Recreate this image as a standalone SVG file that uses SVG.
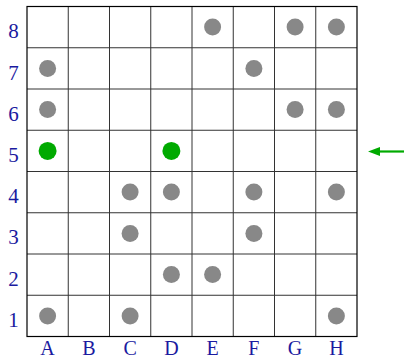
<svg xmlns="http://www.w3.org/2000/svg" width="404" height="360" viewBox="0 0 404 360">
<style>
.g{fill:none;stroke:#333;stroke-width:1}
.b{fill:none;stroke:#000;stroke-width:1.2}
.p{fill:#888}
.q{fill:#00aa00}
.t{font-family:"Liberation Serif",serif;font-size:21px;fill:#1a1aa0;text-anchor:middle}
.c{font-size:20px}
</style>
<defs>
<marker id="ah" markerWidth="12" markerHeight="9" refX="0" refY="4.5" orient="auto" markerUnits="userSpaceOnUse">
<path d="M0,0 L12,4.5 L0,9 Z" fill="#00aa00"/>
</marker>
</defs>
<rect width="404" height="360" fill="#fff"/>
<g id="grid">
<path class="g" d="M68.25 6.5V336.5M109.5 6.5V336.5M150.75 6.5V336.5M192 6.5V336.5M233.25 6.5V336.5M274.5 6.5V336.5M315.75 6.5V336.5M27 47.75H357M27 89H357M27 130.25H357M27 171.5H357M27 212.75H357M27 254H357M27 295.25H357"/>
<rect class="b" x="27" y="6.5" width="330" height="330"/>
</g>
<g id="labels">
<text class="t" x="13.5" y="38">8</text>
<text class="t" x="13.5" y="79.5">7</text>
<text class="t" x="13.5" y="120.5">6</text>
<text class="t" x="13.5" y="161.5">5</text>
<text class="t" x="13.5" y="203">4</text>
<text class="t" x="13.5" y="244">3</text>
<text class="t" x="13.5" y="285.5">2</text>
<text class="t" x="13.5" y="326.5">1</text>
<text class="t c" x="47.6" y="355">A</text>
<text class="t c" x="88.9" y="355">B</text>
<text class="t c" x="130.1" y="355">C</text>
<text class="t c" x="171.4" y="355">D</text>
<text class="t c" x="212.6" y="355">E</text>
<text class="t c" x="253.9" y="355">F</text>
<text class="t c" x="295.1" y="355">G</text>
<text class="t c" x="336.4" y="355">H</text>
</g>
<g id="stones">
<circle class="p" cx="212.6" cy="27.1" r="8.5"/>
<circle class="p" cx="295.1" cy="27.1" r="8.5"/>
<circle class="p" cx="336.4" cy="27.1" r="8.5"/>
<circle class="p" cx="47.6" cy="68.4" r="8.5"/>
<circle class="p" cx="253.9" cy="68.4" r="8.5"/>
<circle class="p" cx="47.6" cy="109.6" r="8.5"/>
<circle class="p" cx="295.1" cy="109.6" r="8.5"/>
<circle class="p" cx="336.4" cy="109.6" r="8.5"/>
<circle class="q" cx="47.6" cy="150.9" r="9"/>
<circle class="q" cx="171.4" cy="150.9" r="9"/>
<circle class="p" cx="130.1" cy="192.1" r="8.5"/>
<circle class="p" cx="171.4" cy="192.1" r="8.5"/>
<circle class="p" cx="253.9" cy="192.1" r="8.5"/>
<circle class="p" cx="336.4" cy="192.1" r="8.5"/>
<circle class="p" cx="130.1" cy="233.4" r="8.5"/>
<circle class="p" cx="253.9" cy="233.4" r="8.5"/>
<circle class="p" cx="171.4" cy="274.6" r="8.5"/>
<circle class="p" cx="212.6" cy="274.6" r="8.5"/>
<circle class="p" cx="47.6" cy="315.9" r="8.5"/>
<circle class="p" cx="130.1" cy="315.9" r="8.5"/>
<circle class="p" cx="336.4" cy="315.9" r="8.5"/>
</g>
<g id="connectors">
<line x1="404" y1="151.5" x2="380" y2="151.5" stroke="#00aa00" stroke-width="2.2" marker-end="url(#ah)"/>
</g>
</svg>
